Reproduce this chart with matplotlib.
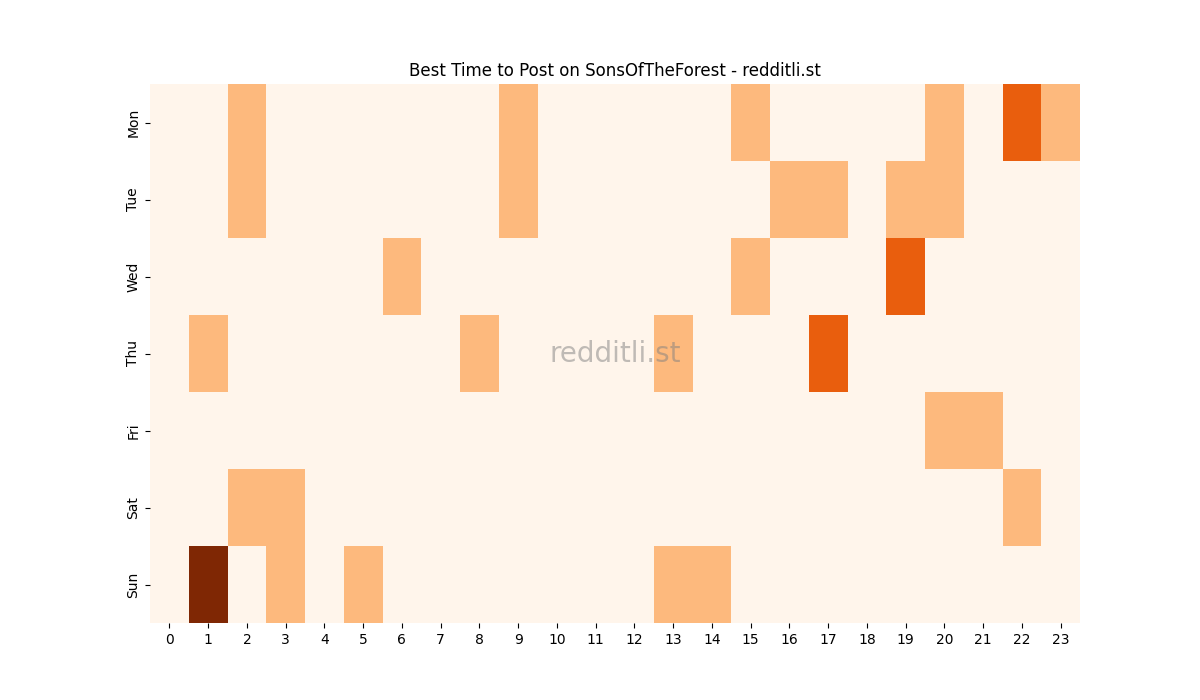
import numpy as np
import matplotlib
matplotlib.use("Agg")
import matplotlib.pyplot as plt

days = ["Mon", "Tue", "Wed", "Thu", "Fri", "Sat", "Sun"]
hours = list(range(24))
mon = [0,0,1,0,0,0,0,0,0,1,0,0,0,0,0,1,0,0,0,0,1,0,2,1]
tue = [0,0,1,0,0,0,0,0,0,1,0,0,0,0,0,0,1,1,0,1,1,0,0,0]
wed = [0,0,0,0,0,0,1,0,0,0,0,0,0,0,0,1,0,0,0,2,0,0,0,0]
thu = [0,1,0,0,0,0,0,0,1,0,0,0,0,1,0,0,0,2,0,0,0,0,0,0]
fri = [0,0,0,0,0,0,0,0,0,0,0,0,0,0,0,0,0,0,0,0,1,1,0,0]
sat = [0,0,1,1,0,0,0,0,0,0,0,0,0,0,0,0,0,0,0,0,0,0,1,0]
sun = [0,3,0,1,0,1,0,0,0,0,0,0,0,1,1,0,0,0,0,0,0,0,0,0]

data = np.array([mon, tue, wed, thu, fri, sat, sun])

fig, ax = plt.subplots(figsize=(12, 7), dpi=100)
ax.pcolormesh(np.arange(25), np.arange(8), data, cmap="Oranges", vmin=0, vmax=3)
ax.set_xlim(0, 24)
ax.set_ylim(7, 0)
ax.set_xticks(np.arange(24) + 0.5)
ax.set_xticklabels([str(h) for h in hours])
ax.set_yticks(np.arange(7) + 0.5)
ax.set_yticklabels(days, rotation=90, va="center")
for s in ax.spines.values():
    s.set_visible(False)
ax.set_title("Best Time to Post on SonsOfTheForest - redditli.st")
ax.text(0.5, 0.5, "redditli.st", transform=ax.transAxes, fontsize=20,
        color="grey", alpha=0.5, ha="center", va="center")
fig.savefig("out.png")
